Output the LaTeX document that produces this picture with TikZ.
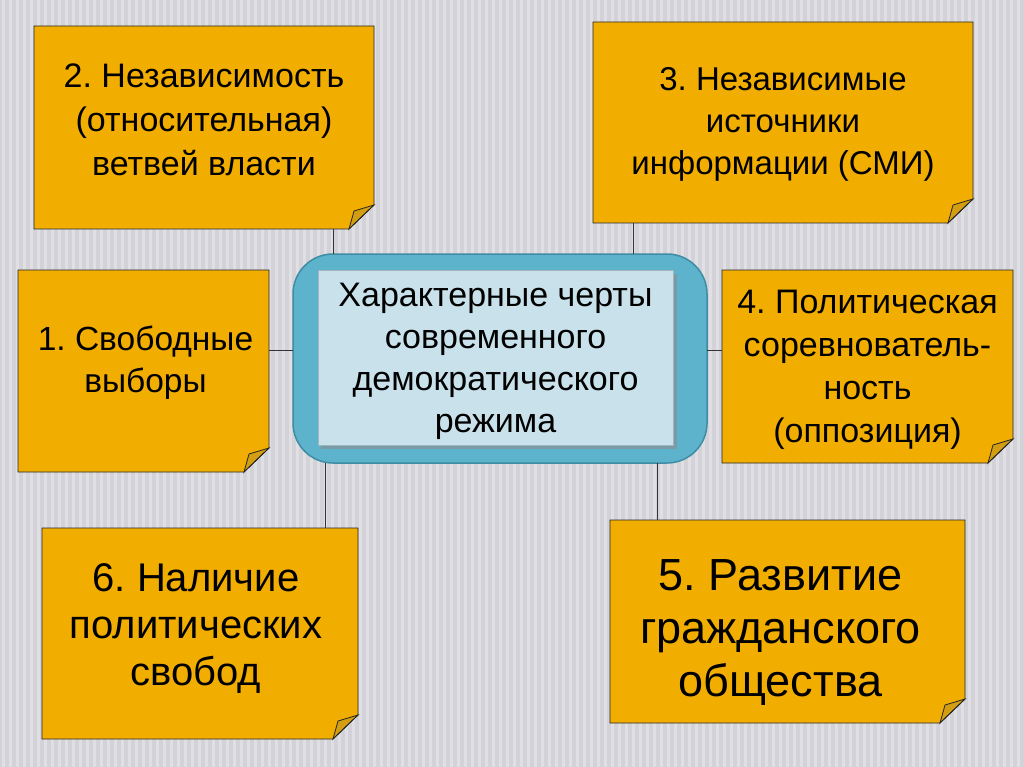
\documentclass[tikz,border=0pt]{standalone}
\usepackage{fontspec}
\setmainfont{Liberation Sans}
\frenchspacing
\definecolor{notefill}{HTML}{F2AE00}
\definecolor{notefold}{HTML}{D39E12}
\definecolor{bgray}{HTML}{D2D2D8}
\definecolor{bstripe}{HTML}{DFDFE4}
\definecolor{hubouter}{HTML}{5DB3CB}
\definecolor{hubedge}{HTML}{3E8DA5}
\definecolor{hubinner}{HTML}{C8E1EB}
\tikzset{
  notetext/.style={align=center, inner sep=0pt},
  link/.style={draw=black!80, line width=1pt},
}
% sticky note with folded corner: [text style]{name}{x1}{y1}{x2}{y2}{text}
\newcommand{\notebox}[7][]{%
  \fill[notefill] (#3,#4) -- (#5,#4) -- (#5,#6-24) -- (#5-25,#6) -- (#3,#6) -- cycle;
  \filldraw[fill=notefold, draw=black!85, line width=0.8pt]
    (#5,#6-24) -- (#5-20,#6-18) -- (#5-25,#6) -- cycle;
  \draw[black!85, line width=0.8pt] (#3,#4) -- (#5,#4) -- (#5,#6-24) -- (#5-25,#6) -- (#3,#6) -- cycle;
  \node[inner sep=0pt, minimum width={#5-#3}, minimum height={#6-#4}] (#2) at ({(#3+#5)/2},{(#4+#6)/2}) {};
  \node[notetext,#1] at (#2) {#7};
}
\begin{document}
\begin{tikzpicture}[x=1pt,y=-1pt]
  \useasboundingbox (0,0) rectangle (1024,767);
  % background
  \fill[bgray] (0,0) rectangle (1024,767);
  \foreach \sx in {2,9,...,1024}
    \fill[bstripe] (\sx,0) rectangle (\sx+3,767);
  % notes
  \notebox[font=\fontsize{34}{44}\selectfont, yshift=8pt]{n2}{34}{26}{374}{229}%
    {2. Независимость\\(относительная)\\ветвей власти}
  \notebox[font=\fontsize{33}{42}\selectfont, yshift=-2pt]{n3}{593}{22}{973}{223}%
    {3. Независимые\\источники\\информации (СМИ)}
  \notebox[font=\fontsize{33.5}{42}\selectfont, yshift=8pt, xshift=2pt]{n1}{18}{270}{269}{472}%
    {1. Свободные\\выборы}
  \notebox[font=\fontsize{34}{43}\selectfont, yshift=-3pt]{n4}{722}{270}{1013}{463}%
    {4. Политическая\\соревнователь-\\ность\\(оппозиция)}
  \notebox[font=\fontsize{40}{47}\selectfont, yshift=5pt, xshift=-4pt]{n6}{42}{528}{358}{739}%
    {6. Наличие\\политических\\свобод}
  \notebox[font=\fontsize{45}{53}\selectfont, yshift=-11pt, xshift=-7pt]{n5}{610}{520}{965}{723}%
    {5. Развитие\\гражданского\\общества}
  % centre
  \filldraw[fill=hubouter, draw=hubedge, line width=1.5pt, rounded corners=40pt]
    (293,254) rectangle (707,463);
  \fill[black!45, opacity=0.6] (321,274) rectangle (677,449);
  \filldraw[fill=hubinner, draw=hubinner!80!black, line width=0.6pt]
    (318,270) rectangle (673,445);
  \node[inner sep=0pt, minimum width=414, minimum height=209] (rezhim) at (500,358.5) {};
  \node[notetext, font=\fontsize{34}{42}\selectfont] at (495.5,361)
    {Характерные черты\\современного\\демократического\\режима};
  % links
  \coordinate (x2) at (333,0);
  \coordinate (x3) at (633,0);
  \coordinate (x6) at (325,0);
  \coordinate (x5) at (657,0);
  \coordinate (y14) at (0,350);
  \draw[link] (n2.south -| x2) -- (rezhim.north -| x2);
  \draw[link] (n3.south -| x3) -- (rezhim.north -| x3);
  \draw[link] (n6.north -| x6) -- (rezhim.south -| x6);
  \draw[link] (n5.north -| x5) -- (rezhim.south -| x5);
  \draw[link] (n1.east |- y14) -- (rezhim.west |- y14);
  \draw[link] (n4.west |- y14) -- (rezhim.east |- y14);
\end{tikzpicture}
\end{document}
